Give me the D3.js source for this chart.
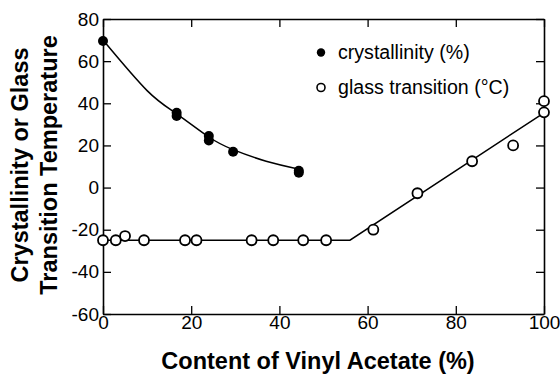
<!DOCTYPE html>
<html><head><meta charset="utf-8">
<script src="https://cdn.jsdelivr.net/npm/d3@7"></script>
<style>body{margin:0;background:#fff}</style>
</head><body>
<svg id="c" width="560" height="375"></svg>
<script>
// Data
const crystX = [0, 16.7, 16.7, 24, 24, 29.5, 44.4, 44.4];
const crystY = [69.6, 35.5, 34, 24.5, 22.3, 17, 8, 7];
const crystFitX = [0, 10, 16.7, 24, 29.5, 37, 45];
const crystFitY = [70, 46, 35, 24, 18, 12.5, 8.5];
const glassX = [0, 2.9, 5, 9.3, 18.6, 21.2, 33.7, 38.6, 45.4, 50.6, 61.3, 71.3, 83.7, 93, 100, 100];
const glassY = [-25, -25, -23, -25, -25, -25, -25, -25, -25, -25, -20, -2.7, 12.5, 20, 41, 35.7];
const glassFitX = [0, 56, 100];
const glassFitY = [-25, -25, 35.5];
const xTicks = [0, 20, 40, 60, 80, 100];
const yTicks = [-60, -40, -20, 0, 20, 40, 60, 80];
const legendLabels = ["crystallinity (%)", "glass transition (\u00B0C)"];

(function () {
const svg = d3.select("#c");
const L = 103, R = 544, T = 19, B = 314;
const x = d3.scaleLinear().domain([0, 100]).range([L, R]);
const y = d3.scaleLinear().domain([-60, 80]).range([B, T]);
const font = "Liberation Sans, Arial, Helvetica, sans-serif";
const fmt = d => String(d);

const styleText = (g) => g.selectAll("text").attr("font-family", font).attr("font-size", 19).attr("fill", "#000");
const gBottom = svg.append("g").attr("transform", `translate(0,${B})`)
  .call(d3.axisBottom(x).tickValues(xTicks).tickFormat(fmt).tickSize(-8).tickPadding(4).tickSizeOuter(0));
const gLeft = svg.append("g").attr("transform", `translate(${L},0)`)
  .call(d3.axisLeft(y).tickValues(yTicks).tickFormat(fmt).tickSize(-8).tickPadding(3).tickSizeOuter(0));
const gTop = svg.append("g").attr("transform", `translate(0,${T})`)
  .call(d3.axisTop(x).tickValues(xTicks).tickSize(-8).tickFormat("").tickSizeOuter(0));
const gRight = svg.append("g").attr("transform", `translate(${R},0)`)
  .call(d3.axisRight(y).tickValues(yTicks).tickSize(-8).tickFormat("").tickSizeOuter(0));
[gBottom, gLeft, gTop, gRight].forEach(g => {
  g.select(".domain").attr("stroke", "#000").attr("stroke-width", 1.6);
  g.selectAll(".tick line").attr("stroke", "#000").attr("stroke-width", 1.3);
  styleText(g);
});
gBottom.selectAll("text").attr("dy", "0.6em");
gLeft.selectAll("text").attr("dx", "-1");

// fit lines
svg.append("path").datum(crystFitX.map((v, i) => [v, crystFitY[i]]))
  .attr("d", d3.line().x(d => x(d[0])).y(d => y(d[1])).curve(d3.curveNatural))
  .attr("fill", "none").attr("stroke", "#000").attr("stroke-width", 1.5);
svg.append("path").datum(glassFitX.map((v, i) => [v, glassFitY[i]]))
  .attr("d", d3.line().x(d => x(d[0])).y(d => y(d[1])))
  .attr("fill", "none").attr("stroke", "#000").attr("stroke-width", 1.5);

// points
svg.append("g").selectAll("circle").data(crystX.map((v, i) => [v, crystY[i]])).join("circle")
  .attr("cx", d => x(d[0])).attr("cy", d => y(d[1])).attr("r", 5).attr("fill", "#000");
svg.append("g").selectAll("circle").data(glassX.map((v, i) => [v, glassY[i]])).join("circle")
  .attr("cx", d => x(d[0])).attr("cy", d => y(d[1])).attr("r", 5).attr("fill", "#fff")
  .attr("stroke", "#000").attr("stroke-width", 1.8);

// legend
const lg = svg.append("g");
lg.append("circle").attr("cx", 321).attr("cy", 52.5).attr("r", 4.2).attr("fill", "#000");
lg.append("circle").attr("cx", 321).attr("cy", 87.5).attr("r", 4).attr("fill", "#fff").attr("stroke", "#000").attr("stroke-width", 1.6);
lg.selectAll("text").data(legendLabels).join("text")
  .attr("x", 338).attr("y", (d, i) => 52.5 + i * 35).attr("dy", "0.35em")
  .attr("font-family", font).attr("font-size", 19.6).text(d => d);

// axis titles
svg.append("text").attr("x", 318).attr("y", 369).attr("text-anchor", "middle")
  .attr("font-family", font).attr("font-weight", "bold").attr("font-size", 23.5)
  .text("Content of Vinyl Acetate (%)");
const yt = svg.append("text").attr("transform", "translate(28,165) rotate(-90)")
  .attr("text-anchor", "middle").attr("font-family", font).attr("font-weight", "bold").attr("font-size", 23.5);
yt.append("tspan").attr("x", 0).attr("y", 0).text("Crystallinity or Glass");
yt.append("tspan").attr("x", 0).attr("y", 29).text("Transition Temperature");
})();
</script>
</body></html>
